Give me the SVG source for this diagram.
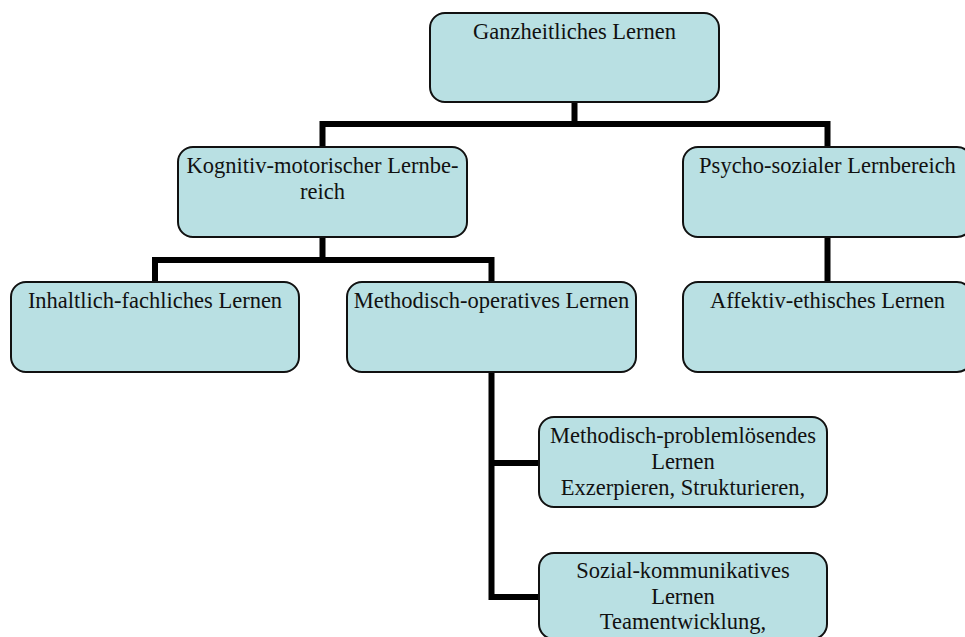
<svg xmlns="http://www.w3.org/2000/svg" width="965" height="637" viewBox="0 0 965 637">
  <style>
    .box { fill: #b9e0e3; stroke: #111; stroke-width: 2; }
    .lbl { font-family: "Liberation Serif", "Times New Roman", serif; font-size: 22.5px; fill: #111; text-anchor: middle; }
    .wire { fill: none; stroke: #000; stroke-width: 6; stroke-linecap: butt; stroke-linejoin: miter; }
  </style>
  <rect width="965" height="637" fill="#fff"/>

  <!-- tree connectors -->
  <g id="connectors">
    <path class="wire" d="M574.5 102 V124 M322.5 124 H827.5 M322.5 121 V147 M827.5 121 V147"/>
    <path class="wire" d="M322.5 237 V260 M155 260 H491.5 M155 257 V282 M491.5 257 V282"/>
    <path class="wire" d="M827.5 237 V282"/>
    <path class="wire" d="M491.5 372 V597 M488.5 463 H539 M488.5 597 H539"/>
  </g>

  <g id="ganzheitliches">
    <rect class="box" x="430" y="13" width="289" height="89" rx="15"/>
    <text class="lbl" x="574.5" y="38.5">Ganzheitliches Lernen</text>
  </g>

  <g id="kognitiv">
    <rect class="box" x="178" y="147" width="289" height="90" rx="15"/>
    <text class="lbl" x="322.5" y="172.5">Kognitiv-motorischer Lernbe-</text>
    <text class="lbl" x="322.5" y="198.5">reich</text>
  </g>

  <g id="psycho">
    <rect class="box" x="683" y="147" width="289" height="90" rx="15"/>
    <text class="lbl" x="827.5" y="172.5">Psycho-sozialer Lernbereich</text>
  </g>

  <g id="inhaltlich">
    <rect class="box" x="11" y="282" width="288" height="90" rx="15"/>
    <text class="lbl" x="155" y="307.5">Inhaltlich-fachliches Lernen</text>
  </g>

  <g id="methodisch-operativ">
    <rect class="box" x="347" y="282" width="289" height="90" rx="15"/>
    <text class="lbl" x="491.5" y="307.5">Methodisch-operatives Lernen</text>
  </g>

  <g id="affektiv">
    <rect class="box" x="683" y="282" width="289" height="90" rx="15"/>
    <text class="lbl" x="827.5" y="307.5">Affektiv-ethisches Lernen</text>
  </g>

  <g id="problemloesend">
    <rect class="box" x="539" y="417" width="288" height="90" rx="15"/>
    <text class="lbl" x="683" y="442.5">Methodisch-problemlösendes</text>
    <text class="lbl" x="683" y="468.5">Lernen</text>
    <text class="lbl" x="683" y="494.5">Exzerpieren, Strukturieren,</text>
  </g>

  <g id="sozial">
    <rect class="box" x="539" y="553" width="288" height="86" rx="15"/>
    <text class="lbl" x="683" y="578">Sozial-kommunikatives</text>
    <text class="lbl" x="683" y="604">Lernen</text>
    <text class="lbl" x="683" y="629">Teamentwicklung,</text>
  </g>
</svg>
